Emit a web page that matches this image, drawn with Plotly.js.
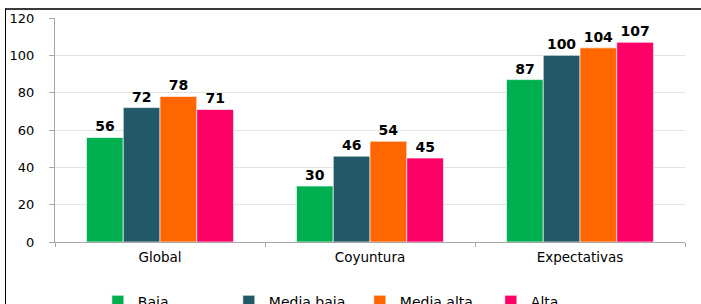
<!DOCTYPE html>
<html>
<head>
<meta charset="utf-8">
<script src="https://cdn.plot.ly/plotly-3.0.1.min.js"></script>
<style>
  html, body { margin: 0; padding: 0; background: #fff; overflow: hidden; }
  #frame { position: absolute; left: 5px; top: 8px; width: 720px; height: 320px;
           border-top: 2px solid #3a3a3a; border-left: 1px solid #000; pointer-events: none; }
  #chart { position: absolute; left: 0; top: 0; width: 701px; height: 304px; }
</style>
</head>
<body>
<div id="chart"></div>
<div id="frame"></div>
<script>
const categories = ["Global", "Coyuntura", "Expectativas"];
const seriesNames = ["Baja", "Media baja", "Media alta", "Alta"];
const baja = [56, 30, 87];
const mediaBaja = [72, 46, 100];
const mediaAlta = [78, 54, 104];
const alta = [71, 45, 107];
const yTicks = [0, 20, 40, 60, 80, 100, 120];

const colors = ["#00B050", "#215968", "#FF6600", "#FF0066"];
const values = [baja, mediaBaja, mediaAlta, alta];

const traces = values.map((v, i) => ({
  type: "bar",
  name: seriesNames[i],
  x: categories,
  y: v,
  text: v.map(String),
  textposition: "outside",
  cliponaxis: false,
  textfont: { family: "DejaVu Sans", size: 14, color: "#000", weight: "bold" },
  marker: { color: colors[i], line: { color: "rgba(255,255,255,0.8)", width: 0.8 } },
  hoverinfo: "skip"
}));

const layout = {
  width: 701, height: 304,
  margin: { l: 55, r: 16, t: 18, b: 62, autoexpand: false },
  paper_bgcolor: "#fff", plot_bgcolor: "#fff",
  font: { family: "DejaVu Sans", size: 12, color: "#000" },
  barmode: "group", bargap: 0.3, bargroupgap: 0,
  showlegend: true,
  legend: {
    orientation: "h", x: 0.068, xanchor: "left", y: -0.195, yanchor: "top",
    font: { family: "DejaVu Sans", size: 14, color: "#000" },
    entrywidth: 86, itemwidth: 30, traceorder: "normal"
  },
  xaxis: {
    type: "category", showgrid: false, showline: true, linecolor: "#a6a6a6", linewidth: 1,
    ticks: "outside", tickson: "boundaries", ticklen: 4, tickcolor: "#a6a6a6",
    ticklabelstandoff: 3,
    tickfont: { family: "DejaVu Sans", size: 13.5, color: "#000" }, zeroline: false
  },
  yaxis: {
    range: [0, 120], tickvals: yTicks, ticktext: yTicks.map(String),
    showgrid: true, gridcolor: "#e3e3e3", gridwidth: 1,
    showline: true, linecolor: "#a6a6a6", linewidth: 1,
    ticks: "outside", ticklen: 5, tickcolor: "#a6a6a6",
    ticklabelstandoff: 12,
    tickfont: { family: "DejaVu Sans", size: 13, color: "#000" }, zeroline: false
  }
};

Plotly.newPlot("chart", traces, layout, { staticPlot: true, displayModeBar: false });
</script>
</body>
</html>
